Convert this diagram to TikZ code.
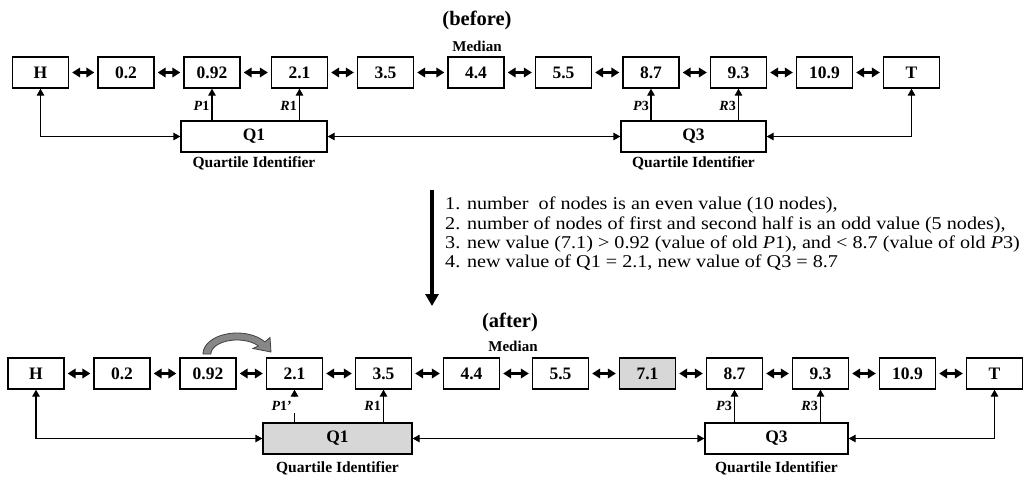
\documentclass[tikz,border=0pt]{standalone}
\usepackage{fontspec}
\setmainfont{Liberation Serif}
\newfontfamily\wideserif[FakeStretch=1.12]{Liberation Serif}
\usetikzlibrary{arrows.meta}
\definecolor{boxgray}{RGB}{215,215,215}
\definecolor{curvegray}{RGB}{135,135,135}
\begin{document}
\begin{tikzpicture}[x=1pt,y=-1pt,
  box/.style={draw, line width=1.3pt, minimum width=56pt, minimum height=31pt, inner sep=0pt, font=\fontsize{17.5}{17.5}\selectfont\bfseries},
  qbox/.style={box, minimum width=146pt},
  lab/.style={font=\fontsize{15.5}{15.5}\selectfont\bfseries, inner sep=0pt},
  title/.style={font=\fontsize{20.5}{20.5}\selectfont\bfseries, inner sep=0pt},
  medlab/.style={font=\fontsize{15}{15}\selectfont\bfseries, inner sep=0pt},
  ptr/.style={font=\fontsize{14}{14}\selectfont\bfseries, inner sep=0pt, anchor=east},
  txt/.style={font=\wideserif\fontsize{18}{18}\selectfont, inner sep=0pt, anchor=west},
  conn/.style={line width=1.3pt, -{Triangle[length=7pt,width=7.5pt]}},
  both/.style={line width=1.3pt, {Triangle[length=7pt,width=7.5pt]}-{Triangle[length=7pt,width=7.5pt]}},
  dbl/.style={line width=2.2pt, {Triangle[length=8pt,width=9.5pt]}-{Triangle[length=8pt,width=9.5pt]}, shorten <=3pt, shorten >=3pt}
]
\useasboundingbox (0,0) rectangle (1033,479);

% ---------- before ----------
\node[title] (tbefore) at (477,20) {(before)};
\node[medlab] (med1) at (477,46) {Median};
\foreach \n/\t/\x in {aH/H/40.5, a02/0.2/126, a092/0.92/212, a21/2.1/299.5, a35/3.5/385.5, a44/4.4/476, a55/5.5/563.5, a87/8.7/651, a93/9.3/738.5, a109/10.9/824.5, aT/T/911.5}
  \node[box] (\n) at (\x,72.5) {\t};
\foreach \a/\b in {aH/a02, a02/a092, a092/a21, a21/a35, a35/a44, a44/a55, a55/a87, a87/a93, a93/a109, a109/aT}
  \draw[dbl] (\a) -- (\b);
\node[qbox] (aQ1) at (254,136.5) {Q1};
\node[qbox, minimum width=145pt] (aQ3) at (693.5,136.5) {Q3};
\node[lab] (aQ1l) at (254,163.5) {Quartile Identifier};
\node[lab] (aQ3l) at (693.5,163.5) {Quartile Identifier};
\draw[conn] (aQ1.north -| a092.south) -- (a092.south);
\draw[conn] (aQ1.north -| a21.south) -- (a21.south);
\draw[conn] (aQ3.north -| a87.south) -- (a87.south);
\draw[conn] (aQ3.north -| a93.south) -- (a93.south);
\node[ptr] (ap1) at (209.5,106) {\textit{P}1};
\node[ptr] (ar1) at (297,106) {\textit{R}1};
\node[ptr] (ap3) at (649,106) {\textit{P}3};
\node[ptr] (ar3) at (736,106) {\textit{R}3};
\draw[both] (aH.south) |- (aQ1.west);
\draw[both] (aQ1.east) -- (aQ3.west);
\draw[both] (aT.south) |- (aQ3.east);

% ---------- transition ----------
\coordinate (bigtop) at (432,190);
\coordinate (bigbot) at (432,306);
\draw[line width=3.5pt, -{Triangle[length=12pt,width=13pt]}] (bigtop) -- (bigbot);
\node[txt] (l1) at (445,205.5) {1. number\ \ of nodes is an even value (10 nodes),};
\node[txt] (l2) at (445,225) {2. number of nodes of first and second half is an odd value (5 nodes),};
\node[txt] (l3) at (445,244) {3. new value (7.1) > 0.92 (value of old \textit{P}1), and < 8.7 (value of old \textit{P}3)};
\node[txt] (l4) at (445,263) {4. new value of Q1 = 2.1, new value of Q3 = 8.7};

% ---------- after ----------
\node[title] (tafter) at (510,322) {(after)};
\node[medlab] (med2) at (513,346) {Median};
\foreach \n/\t/\x in {cH/H/36, c02/0.2/122, c092/0.92/208, c21/2.1/294.5, c35/3.5/383.5, c44/4.4/471.5, c55/5.5/560.5, c71/7.1/647.5, c87/8.7/734.5, c93/9.3/820.5, c109/10.9/907.5, cT/T/994.5}
  \node[box] (\n) at (\x,373.5) {\t};
\node[box, fill=boxgray] at (c71) {7.1};
\foreach \a/\b in {cH/c02, c02/c092, c092/c21, c21/c35, c35/c44, c44/c55, c55/c71, c71/c87, c87/c93, c93/c109, c109/cT}
  \draw[dbl] (\a) -- (\b);
\node[qbox, fill=boxgray, minimum width=149pt] (cQ1) at (337.5,438.5) {Q1};
\node[qbox, minimum width=143pt] (cQ3) at (776.5,438.5) {Q3};
\node[lab] (cQ1l) at (337.5,468) {Quartile Identifier};
\node[lab] (cQ3l) at (776.5,468) {Quartile Identifier};
% broken P1 pointer
\coordinate (p1stub) at (294.5,413);
\coordinate (p1head) at (294.5,397);
\draw[line width=1.3pt] (cQ1.north -| c21.south) -- (p1stub);
\draw[conn] (p1head) -- (c21.south);
\draw[conn] (cQ1.north -| c35.south) -- (c35.south);
\draw[conn] (cQ3.north -| c87.south) -- (c87.south);
\draw[conn] (cQ3.north -| c93.south) -- (c93.south);
\node[ptr] (cp1) at (292,406) {\textit{P}1'};
\node[ptr] (cr1) at (381,406) {\textit{R}1};
\node[ptr] (cp3) at (732,406) {\textit{P}3};
\node[ptr] (cr3) at (818,406) {\textit{R}3};
\draw[both] (cH.south) |- (cQ1.west);
\draw[both] (cQ1.east) -- (cQ3.west);
\draw[both] (cT.south) |- (cQ3.east);

% curved move arrow
\filldraw[fill=curvegray, draw=black!75, line width=0.8pt]
  plot[domain=180:35, samples=30] ({237+34*cos(\x)},{354-21*sin(\x)})
  -- (270,337.5) -- (271,352) -- (253,348.5)
  -- plot[domain=35:180, samples=30] ({237+26*cos(\x)},{354-14*sin(\x)})
  -- cycle;
\end{tikzpicture}
\end{document}
